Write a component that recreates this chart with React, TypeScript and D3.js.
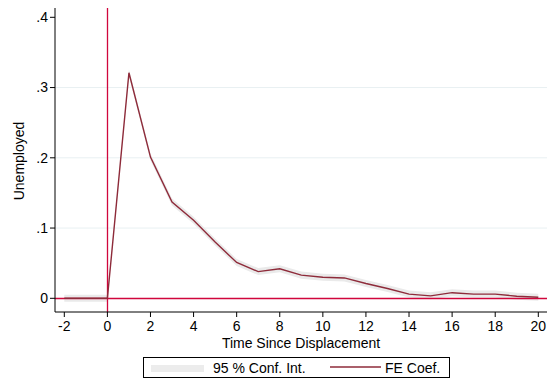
import React from "react";
import * as d3 from "d3";

const times = [-2, -1, 0, 1, 2, 3, 4, 5, 6, 7, 8, 9, 10, 11, 12, 13, 14, 15, 16, 17, 18, 19, 20];
const coef = [0, 0, 0, 0.321, 0.201, 0.137, 0.111, 0.080, 0.051, 0.038, 0.042, 0.033, 0.030, 0.029, 0.021, 0.014, 0.006, 0.0035, 0.008, 0.006, 0.006, 0.003, 0.0015];
const ciLow = [-0.005, -0.005, -0.005, 0.316, 0.196, 0.132, 0.106, 0.075, 0.046, 0.033, 0.037, 0.028, 0.025, 0.024, 0.016, 0.009, 0.001, -0.0015, 0.003, 0.001, 0.001, -0.002, -0.0035];
const ciHigh = [0.005, 0.005, 0.005, 0.326, 0.206, 0.142, 0.116, 0.085, 0.056, 0.043, 0.047, 0.038, 0.035, 0.034, 0.026, 0.019, 0.011, 0.0085, 0.013, 0.011, 0.011, 0.008, 0.0065];
const xTicks = [-2, 0, 2, 4, 6, 8, 10, 12, 14, 16, 18, 20];
const yTicks = [0, 0.1, 0.2, 0.3, 0.4];
const yTickLabels = ["0", ".1", ".2", ".3", ".4"];
const gridTicks = [0.1, 0.2, 0.3];

export default function App() {
  const W = 547, H = 388;
  const x = d3.scaleLinear().domain([-2, 20]).range([64.3, 538.3]);
  const y = d3.scaleLinear().domain([0, 0.4]).range([298.3, 17.3]);
  const left = 55, right = 547, top = 8, bottom = 312;
  const font = "Liberation Sans, Arial, sans-serif";

  const idx = times.map((_, i) => i);
  const area = d3.area<number>()
    .x((i) => x(times[i]))
    .y0((i) => y(ciLow[i]))
    .y1((i) => y(ciHigh[i]));
  const line = d3.line<number>()
    .x((i) => x(times[i]))
    .y((i) => y(coef[i]));
  const x0 = Math.floor(x(0)) + 0.5;
  const y0 = Math.floor(y(0)) + 0.5;

  return (
    <svg width={W} height={H} style={{ position: "absolute", left: 0, top: 0 }} fontFamily={font}>
      <rect x={0} y={0} width={W} height={H} fill="#ffffff" />
      {gridTicks.map((t) => (
        <line key={t} x1={left} x2={right} y1={y(t)} y2={y(t)} stroke="#e8f0f2" strokeWidth={1} />
      ))}
      <path d={area(idx) || ""} fill="#eaeaea" />
      <line x1={x0} x2={x0} y1={top} y2={bottom} stroke="#d0063c" strokeWidth={1.3} />
      <line x1={left} x2={right} y1={y0} y2={y0} stroke="#d0063c" strokeWidth={1.3} />
      <path d={line(idx) || ""} fill="none" stroke="#8e2b3a" strokeWidth={1.4} />
      {/* axes */}
      <line x1={left} x2={left} y1={top} y2={bottom} stroke="#000" strokeWidth={1} />
      <line x1={left} x2={right} y1={bottom} y2={bottom} stroke="#000" strokeWidth={1} />
      {yTicks.map((t, i) => (
        <g key={t}>
          <line x1={left - 5} x2={left} y1={y(t)} y2={y(t)} stroke="#000" />
          <text x={left - 7} y={y(t)} dy="0.35em" textAnchor="end" fontSize={14}>{yTickLabels[i]}</text>
        </g>
      ))}
      {xTicks.map((t) => (
        <g key={t}>
          <line x1={x(t)} x2={x(t)} y1={bottom} y2={bottom + 5} stroke="#000" />
          <text x={x(t)} y={bottom + 19} textAnchor="middle" fontSize={14}>{t}</text>
        </g>
      ))}
      <text x={301} y={347.5} textAnchor="middle" fontSize={14}>Time Since Displacement</text>
      <text transform={`translate(24,161) rotate(-90)`} textAnchor="middle" fontSize={14}>Unemployed</text>
      {/* legend */}
      <rect x={143.5} y={357.5} width={306} height={20} fill="#fff" stroke="#000" strokeWidth={1} />
      <rect x={151} y={365} width={53} height={7} fill="#ececec" />
      <text x={213} y={372.5} fontSize={14}>95 % Conf. Int.</text>
      <line x1={330} x2={381} y1={367} y2={367} stroke="#8e2b3a" strokeWidth={1.4} />
      <text x={385} y={372.5} fontSize={14}>FE Coef.</text>
    </svg>
  );
}
